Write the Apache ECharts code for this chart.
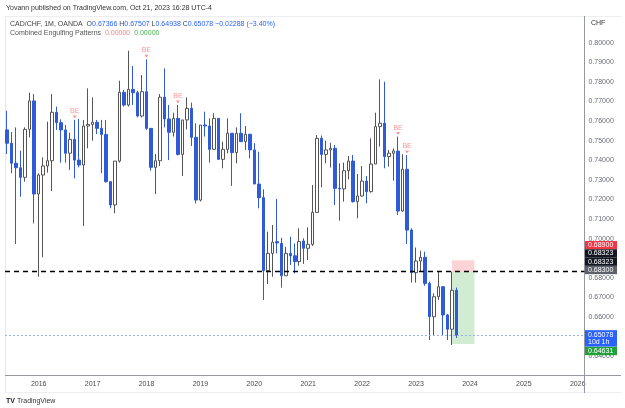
<!DOCTYPE html>
<html>
<head>
<meta charset="utf-8">
<script src="https://cdn.jsdelivr.net/npm/echarts@6.0.0/dist/echarts.min.js"></script>
<style>
  html, body { margin: 0; padding: 0; background: #fff; }
  #main { width: 625px; height: 408px; }
</style>
</head>
<body>
<div id="main"></div>
<script>
var FONT = '"Liberation Sans", Arial, sans-serif';

// monthly categories, Jun 2015 .. Feb 2026
var months = [];
for (var yr = 2015, mo = 6; months.length < 129; mo++) {
  if (mo > 12) { mo = 1; yr++; }
  months.push(yr + '-' + (mo < 10 ? '0' + mo : mo));
}

// CAD/CHF monthly candles: [open, close, low, high]
var candles = [
  [0.7555, 0.7487, 0.7432, 0.7653], [0.7487, 0.7385, 0.7334, 0.7544], [0.7385, 0.7362, 0.6973, 0.7568],
  [0.7362, 0.7313, 0.7214, 0.7449], [0.7313, 0.7558, 0.7291, 0.7568], [0.7558, 0.7703, 0.7517, 0.7745],
  [0.7703, 0.7228, 0.7078, 0.7738], [0.7228, 0.7325, 0.6806, 0.7334], [0.7325, 0.7371, 0.6905, 0.7415],
  [0.7371, 0.7398, 0.7337, 0.7597], [0.7398, 0.7645, 0.7243, 0.7738], [0.7645, 0.7592, 0.7555, 0.7674],
  [0.7592, 0.7555, 0.7388, 0.7609], [0.7555, 0.7436, 0.7388, 0.7580], [0.7436, 0.7507, 0.7351, 0.7541],
  [0.7507, 0.7401, 0.7308, 0.7606], [0.7401, 0.7376, 0.7364, 0.7611], [0.7376, 0.7575, 0.7065, 0.7606],
  [0.7575, 0.7583, 0.7461, 0.7767], [0.7583, 0.7594, 0.7500, 0.7721], [0.7594, 0.7563, 0.7534, 0.7606],
  [0.7563, 0.7532, 0.7334, 0.7606], [0.7532, 0.7291, 0.7286, 0.7606], [0.7291, 0.7172, 0.7155, 0.7291],
  [0.7172, 0.7396, 0.7129, 0.7396], [0.7396, 0.7747, 0.7388, 0.7806], [0.7747, 0.7682, 0.7674, 0.7759],
  [0.7682, 0.7762, 0.7674, 0.7959], [0.7762, 0.7745, 0.7682, 0.7881], [0.7745, 0.7626, 0.7619, 0.7755],
  [0.7626, 0.7750, 0.7619, 0.7835], [0.7750, 0.7563, 0.7555, 0.7915], [0.7563, 0.7364, 0.7347, 0.7563],
  [0.7364, 0.7398, 0.7228, 0.7432], [0.7398, 0.7722, 0.7371, 0.7738], [0.7722, 0.7611, 0.7568, 0.7869],
  [0.7611, 0.7543, 0.7401, 0.7682], [0.7543, 0.7614, 0.7521, 0.7643], [0.7614, 0.7430, 0.7425, 0.7682],
  [0.7430, 0.7606, 0.7320, 0.7606], [0.7606, 0.7665, 0.7558, 0.7721], [0.7665, 0.7517, 0.7473, 0.7694],
  [0.7517, 0.7197, 0.7180, 0.7589], [0.7197, 0.7580, 0.7190, 0.7580], [0.7580, 0.7575, 0.7521, 0.7648],
  [0.7575, 0.7456, 0.7388, 0.7614], [0.7456, 0.7614, 0.7453, 0.7640], [0.7614, 0.7405, 0.7401, 0.7614],
  [0.7405, 0.7456, 0.7359, 0.7495], [0.7456, 0.7538, 0.7436, 0.7614], [0.7538, 0.7439, 0.7269, 0.7538],
  [0.7439, 0.7538, 0.7385, 0.7568], [0.7538, 0.7495, 0.7495, 0.7640], [0.7495, 0.7533, 0.7453, 0.7575],
  [0.7533, 0.7453, 0.7410, 0.7533], [0.7453, 0.7279, 0.7279, 0.7487], [0.7279, 0.7209, 0.7155, 0.7444],
  [0.7209, 0.6837, 0.6687, 0.7252], [0.6837, 0.6925, 0.6769, 0.7036], [0.6925, 0.6982, 0.6806, 0.7070],
  [0.6985, 0.6978, 0.6925, 0.7203], [0.6976, 0.6811, 0.6750, 0.7005], [0.6811, 0.6925, 0.6811, 0.6959],
  [0.6925, 0.6913, 0.6866, 0.7010], [0.6913, 0.6883, 0.6823, 0.6976], [0.6883, 0.6985, 0.6862, 0.7053],
  [0.6988, 0.6951, 0.6871, 0.7002], [0.6951, 0.6971, 0.6891, 0.7058], [0.6971, 0.7134, 0.6963, 0.7274],
  [0.7134, 0.7512, 0.7134, 0.7529], [0.7512, 0.7430, 0.7262, 0.7527], [0.7430, 0.7453, 0.7385, 0.7500],
  [0.7453, 0.7461, 0.7363, 0.7489], [0.7461, 0.7257, 0.7172, 0.7478], [0.7257, 0.7254, 0.7092, 0.7385],
  [0.7254, 0.7347, 0.7189, 0.7388], [0.7347, 0.7396, 0.7303, 0.7422], [0.7396, 0.7189, 0.7184, 0.7427],
  [0.7189, 0.7218, 0.7104, 0.7330], [0.7218, 0.7294, 0.7215, 0.7371], [0.7294, 0.7240, 0.7181, 0.7320],
  [0.7240, 0.7381, 0.7235, 0.7512], [0.7381, 0.7572, 0.7381, 0.7643], [0.7572, 0.7589, 0.7470, 0.7813],
  [0.7589, 0.7419, 0.7359, 0.7801], [0.7419, 0.7436, 0.7368, 0.7453], [0.7436, 0.7448, 0.7296, 0.7461],
  [0.7447, 0.7141, 0.7121, 0.7521], [0.7141, 0.7354, 0.7138, 0.7431], [0.7354, 0.7044, 0.6973, 0.7427],
  [0.7044, 0.6827, 0.6776, 0.7053], [0.6827, 0.6886, 0.6776, 0.6955], [0.6886, 0.6905, 0.6832, 0.6939],
  [0.6905, 0.6772, 0.6760, 0.6934], [0.6772, 0.6602, 0.6483, 0.6781], [0.6602, 0.6704, 0.6509, 0.6721],
  [0.6704, 0.6755, 0.6687, 0.6832], [0.6755, 0.6611, 0.6509, 0.6758], [0.6611, 0.6538, 0.6483, 0.6616],
  [0.6538, 0.6737, 0.6458, 0.6832], [0.67366, 0.65078, 0.64938, 0.67507]
];

// "BE" (bearish engulfing) signals, by candle index
var engulfIdx = [15, 31, 38, 87, 89];

var levelLine = 0.68323;
var lastPrice = 0.65078;
var posStop = 0.689;
var posEntry = 0.683;
var posTarget = 0.64631;
var posFrom = '2023-09';
var posTo = '2024-02';

var UP_BORDER = '#555555';
var DOWN = '#2f5bd8';

var chart = echarts.init(document.getElementById('main'));

chart.setOption({
  animation: false,
  backgroundColor: '#ffffff',
  grid: { left: 5, right: 40.5, top: 23.1, bottom: 32.1 },
  xAxis: {
    type: 'category',
    data: months,
    boundaryGap: true,
    axisLine: { show: false },
    axisTick: { show: false },
    splitLine: { show: false },
    axisLabel: {
      interval: function (i, v) { return v.slice(5) === '01'; },
      formatter: function (v) { return v.slice(0, 4); },
      color: '#4a4a4a',
      fontSize: 7,
      fontFamily: FONT,
      margin: 5
    }
  },
  yAxis: {
    type: 'value',
    position: 'right',
    min: 0.63,
    max: 0.81,
    interval: 0.01,
    axisLine: { show: false },
    axisTick: { show: false },
    splitLine: { show: false },
    axisLabel: {
      formatter: function (v) { return v.toFixed(5); },
      color: '#6a6d78',
      fontSize: 7,
      fontFamily: FONT,
      margin: 4,
      showMinLabel: false,
      showMaxLabel: false
    }
  },
  series: [
    {
      type: 'candlestick',
      data: candles,
      barWidth: 3,
      itemStyle: {
        color: '#ffffff',
        color0: DOWN,
        borderColor: UP_BORDER,
        borderColor0: DOWN,
        borderWidth: 1
      },
      markArea: {
        silent: true,
        data: [
          [{ coord: [posFrom, posStop], itemStyle: { color: 'rgba(242,54,69,0.22)' } }, { coord: [posTo, posEntry] }],
          [{ coord: [posFrom, posEntry], itemStyle: { color: 'rgba(76,175,80,0.25)' } }, { coord: [posTo, posTarget] }]
        ]
      },
      markLine: {
        silent: true,
        symbol: 'none',
        precision: 5,
        label: { show: false },
        z: 10,
        data: [
          { yAxis: levelLine, lineStyle: { color: '#000000', type: [5, 4], width: 1.3 } },
          { yAxis: lastPrice, lineStyle: { color: '#9cb3f2', type: [2, 2], width: 1 } }
        ]
      }
    },
    {
      type: 'scatter',
      data: engulfIdx.map(function (i) { return [i, candles[i][3]]; }),
      symbol: 'triangle',
      symbolRotate: 180,
      symbolSize: [4, 3],
      symbolOffset: [0, -3],
      itemStyle: { color: '#f77c80' },
      label: {
        show: true,
        position: 'top',
        distance: 1,
        formatter: 'BE',
        color: '#f77c80',
        fontSize: 7,
        fontFamily: FONT
      },
      z: 5
    }
  ]
});

// overlays: frame, header, price tags
function py(p) { return chart.convertToPixel({ yAxisIndex: 0 }, p); }

var tagX = 585, tagW = 32, tagH = 8.3;
var yEntry = py(posEntry) - 2;
var tags = [
  { text: '0.68900', bg: '#f23645', cy: yEntry - 3 * tagH },
  { text: '0.68323', bg: '#131722', cy: yEntry - 2 * tagH },
  { text: '0.68323', bg: '#131722', cy: yEntry - tagH },
  { text: '0.68300', bg: '#5d606b', cy: yEntry }
];
var yLast = py(lastPrice);

var g = [
  { type: 'line', shape: { x1: 5.5, y1: 16, x2: 5.5, y2: 393 }, style: { stroke: '#e6e8ee', lineWidth: 1 }, z: 1 },
  { type: 'line', shape: { x1: 5, y1: 16.5, x2: 621, y2: 16.5 }, style: { stroke: '#eceef2', lineWidth: 1 }, z: 1 },
  { type: 'line', shape: { x1: 5, y1: 392.5, x2: 621, y2: 392.5 }, style: { stroke: '#eceef2', lineWidth: 1 }, z: 1 },
  { type: 'line', shape: { x1: 5, y1: 375.5, x2: 621, y2: 375.5 }, style: { stroke: '#9598a1', lineWidth: 1 }, z: 2 },
  { type: 'line', shape: { x1: 584.5, y1: 16, x2: 584.5, y2: 393 }, style: { stroke: '#9598a1', lineWidth: 1 }, z: 2 },
  { type: 'text', x: 6, y: 8, style: { text: 'Yovann published on TradingView.com, Oct 21, 2023 16:28 UTC-4', fill: '#333', font: '7px ' + FONT, verticalAlign: 'middle' } },
  {
    type: 'text', x: 10, y: 24,
    style: {
      text: '{t|CAD/CHF, 1M, OANDA}  {l|O}{v|0.67366} {l|H}{v|0.67507} {l|L}{v|0.64938} {l|C}{v|0.65078} {v|\u22120.02288 (\u22123.40%)}',
      verticalAlign: 'middle',
      font: '7px ' + FONT,
      rich: {
        t: { fill: '#444', font: '7px ' + FONT },
        l: { fill: '#444', font: '7px ' + FONT },
        v: { fill: '#2962ff', font: '7px ' + FONT }
      }
    }
  },
  {
    type: 'text', x: 10, y: 33,
    style: {
      text: '{t|Combined Engulfing Patterns}  {r|0.00000}  {g|0.00000}',
      verticalAlign: 'middle',
      font: '7px ' + FONT,
      rich: {
        t: { fill: '#555', font: '7px ' + FONT },
        r: { fill: '#f77c80', font: '7px ' + FONT },
        g: { fill: '#4caf50', font: '7px ' + FONT }
      }
    }
  },
  { type: 'text', x: 591, y: 23.5, style: { text: 'CHF', fill: '#333', font: '7px ' + FONT, verticalAlign: 'middle' } },
  { type: 'text', x: 6, y: 401, style: { text: '{b|TV} TradingView', fill: '#333', font: '7px ' + FONT, verticalAlign: 'middle', rich: { b: { font: 'bold 7px ' + FONT, fill: '#131722' } } } }
];

tags.forEach(function (t) {
  g.push({ type: 'rect', shape: { x: tagX, y: t.cy - tagH / 2, width: tagW, height: tagH }, style: { fill: t.bg }, z: 20 });
  g.push({ type: 'text', x: tagX + 3, y: t.cy, style: { text: t.text, fill: '#fff', font: '7px ' + FONT, verticalAlign: 'middle' }, z: 21 });
});

var blueTop = yLast - 5;
g.push({ type: 'rect', shape: { x: tagX, y: blueTop, width: tagW, height: 16.5 }, style: { fill: '#2962ff' }, z: 20 });
g.push({ type: 'text', x: tagX + 3, y: blueTop + 4.5, style: { text: '0.65078', fill: '#fff', font: '7px ' + FONT, verticalAlign: 'middle' }, z: 21 });
g.push({ type: 'text', x: tagX + 3, y: blueTop + 12, style: { text: '10d 1h', fill: '#fff', font: '7px ' + FONT, verticalAlign: 'middle' }, z: 21 });
var greenTop = blueTop + 16.7;
g.push({ type: 'rect', shape: { x: tagX, y: greenTop, width: tagW, height: 8.3 }, style: { fill: '#22a33a' }, z: 20 });
g.push({ type: 'text', x: tagX + 3, y: greenTop + 4.2, style: { text: '0.64631', fill: '#fff', font: '7px ' + FONT, verticalAlign: 'middle' }, z: 21 });

chart.setOption({ graphic: g });
</script>
</body>
</html>
